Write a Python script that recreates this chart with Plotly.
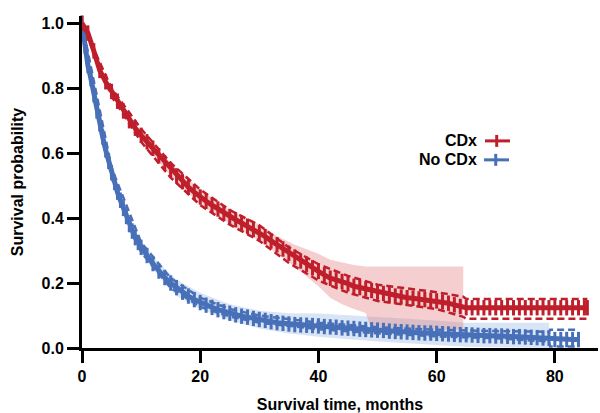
import plotly.graph_objects as go

# ---------------- data ----------------
cdx_t = [0, 1, 2, 3, 4, 5, 6, 7, 8, 9, 10, 11, 12, 13, 14, 15, 16, 17, 18, 19, 20,
         21, 22, 23, 24, 25, 26, 27, 28, 29, 30, 31, 32, 33, 34, 35, 36, 37, 38, 39, 40,
         41, 42, 43, 44, 45, 46, 47, 48, 49, 50, 51, 52, 53, 54, 55, 56, 57, 58, 59, 60,
         61, 62, 63, 64, 65, 66, 67, 68, 69, 70, 71, 72, 73, 74, 75, 76, 77, 78, 79, 80,
         81, 82, 83, 84, 85, 85.5]
cdx_s = [1.0, 0.97, 0.915, 0.855, 0.82, 0.79, 0.76, 0.73, 0.70, 0.677, 0.655, 0.635, 0.615,
         0.592, 0.57, 0.55, 0.53, 0.512, 0.495, 0.48, 0.465, 0.452, 0.44, 0.428, 0.415,
         0.405, 0.395, 0.385, 0.375, 0.365, 0.355, 0.343, 0.33, 0.318, 0.305, 0.292, 0.28,
         0.268, 0.258, 0.247, 0.236, 0.225, 0.215, 0.21, 0.205, 0.198, 0.19, 0.186, 0.182,
         0.177, 0.172, 0.168, 0.164, 0.16, 0.157, 0.155, 0.153, 0.151, 0.149, 0.147, 0.145,
         0.142, 0.138, 0.133, 0.128, 0.124, 0.124, 0.124, 0.124, 0.124, 0.124, 0.124, 0.124,
         0.124, 0.124, 0.124, 0.124, 0.124, 0.124, 0.124, 0.124, 0.124, 0.124, 0.124, 0.124,
         0.124, 0.124]

nocdx_t = [0, 0.5, 1, 1.5, 2, 2.5, 3, 3.5, 4, 4.5, 5, 5.5, 6, 6.5, 7, 7.5, 8, 8.5, 9, 9.5,
           10, 11, 12, 13, 14, 15, 16, 17, 18, 19, 20, 21, 22, 23, 24, 25, 26, 27, 28, 29,
           30, 31, 32, 33, 34, 35, 36, 37, 38, 39, 40, 41, 42, 43, 44, 45, 46, 47, 48, 49,
           50, 51, 52, 53, 54, 55, 56, 57, 58, 59, 60, 61, 62, 63, 64, 65, 66, 67, 68, 69,
           70, 71, 72, 73, 74, 75, 76, 77, 78, 79, 80, 81, 82, 83, 84]
nocdx_s = [1.0, 0.93, 0.87, 0.83, 0.78, 0.73, 0.69, 0.65, 0.61, 0.575, 0.54, 0.51, 0.48,
           0.455, 0.43, 0.405, 0.38, 0.36, 0.34, 0.325, 0.31, 0.285, 0.26, 0.237, 0.217,
           0.2, 0.186, 0.172, 0.16, 0.149, 0.14, 0.132, 0.125, 0.118, 0.112, 0.107, 0.102,
           0.098, 0.095, 0.091, 0.088, 0.085, 0.081, 0.078, 0.076, 0.074, 0.072, 0.071, 0.07,
           0.069, 0.068, 0.066, 0.065, 0.064, 0.062, 0.061, 0.06, 0.058, 0.057, 0.056, 0.055,
           0.054, 0.052, 0.051, 0.05, 0.049, 0.048, 0.047, 0.046, 0.046, 0.045, 0.044, 0.043,
           0.042, 0.041, 0.041, 0.04, 0.039, 0.038, 0.038, 0.037, 0.037, 0.036, 0.035, 0.035,
           0.034, 0.033, 0.032, 0.031, 0.03, 0.026, 0.026, 0.026, 0.026, 0.026]

# dashed confidence limits
cdx_ci_t = [0, 5, 10, 15, 20, 25, 30, 35, 40, 45, 50, 55, 60, 64.5, 65, 85.5]
cdx_ci_hi = [1.0, 0.80, 0.675, 0.57, 0.488, 0.425, 0.378, 0.31, 0.258, 0.222, 0.195, 0.183,
             0.172, 0.158, 0.151, 0.151]
cdx_ci_lo = [1.0, 0.775, 0.635, 0.525, 0.44, 0.38, 0.33, 0.262, 0.208, 0.17, 0.145, 0.132,
             0.12, 0.096, 0.09, 0.09]

nocdx_ci_t = [0, 5, 10, 15, 20, 25, 30, 40, 50, 60, 70, 79, 79.2, 84]
nocdx_ci_hi = [1.0, 0.555, 0.325, 0.215, 0.155, 0.12, 0.1, 0.078, 0.064, 0.056, 0.052, 0.05,
               0.056, 0.056]
nocdx_ci_lo = [1.0, 0.525, 0.295, 0.185, 0.127, 0.097, 0.078, 0.058, 0.045, 0.036, 0.03,
               0.02, 0.005, 0.005]

# shaded bands
cdx_band_t = [10, 15, 20, 25, 30, 33, 36, 40, 42, 44, 46, 48, 49, 64.5]
cdx_band_hi = [0.672, 0.568, 0.488, 0.425, 0.38, 0.345, 0.318, 0.29, 0.272, 0.263, 0.256,
               0.251, 0.251, 0.251]
cdx_band_lo = [0.638, 0.53, 0.442, 0.382, 0.33, 0.29, 0.25, 0.19, 0.155, 0.135, 0.12,
               0.108, 0.056, 0.056]

nocdx_band_t = [8, 10, 13, 16, 20, 25, 30, 35, 40, 45, 50, 55, 60, 65, 70, 79]
nocdx_band_hi = [0.40, 0.33, 0.26, 0.21, 0.17, 0.135, 0.115, 0.107, 0.106, 0.10, 0.095,
                 0.09, 0.085, 0.078, 0.078, 0.078]
nocdx_band_lo = [0.36, 0.29, 0.22, 0.16, 0.12, 0.085, 0.06, 0.045, 0.035, 0.027, 0.02,
                 0.015, 0.01, 0.004, 0.002, 0.0]

x_ticks = [0, 20, 40, 60, 80]
y_ticks = [0.0, 0.2, 0.4, 0.6, 0.8, 1.0]
y_tick_text = ["0.0", "0.2", "0.4", "0.6", "0.8", "1.0"]
series_names = ["CDx", "No CDx"]

RED = "#BF1E2B"
BLUE = "#4870B8"
RED_BAND = "rgba(225,110,110,0.33)"
BLUE_BAND = "rgba(120,160,220,0.28)"

FONT = "Liberation Sans, Arial, Helvetica, sans-serif"

fig = go.Figure()


def band(t, lo, hi, color):
    fig.add_trace(go.Scatter(x=t, y=lo, mode="lines", line=dict(width=0),
                             hoverinfo="skip", showlegend=False))
    fig.add_trace(go.Scatter(x=t, y=hi, mode="lines", line=dict(width=0),
                             fill="tonexty", fillcolor=color, hoverinfo="skip",
                             showlegend=False))


band(nocdx_band_t, nocdx_band_lo, nocdx_band_hi, BLUE_BAND)
band(cdx_band_t, cdx_band_lo, cdx_band_hi, RED_BAND)

for t, ys, col in [(nocdx_ci_t, nocdx_ci_hi, BLUE), (nocdx_ci_t, nocdx_ci_lo, BLUE),
                   (cdx_ci_t, cdx_ci_hi, RED), (cdx_ci_t, cdx_ci_lo, RED)]:
    fig.add_trace(go.Scatter(x=t, y=ys, mode="lines",
                             line=dict(color=col, width=2.5, dash="7px,4px"),
                             showlegend=False, cliponaxis=False))

for t, s, col, name in [(nocdx_t, nocdx_s, BLUE, series_names[1]),
                        (cdx_t, cdx_s, RED, series_names[0])]:
    fig.add_trace(go.Scatter(x=t, y=s, mode="lines+markers", name=name,
                             line=dict(color=col, width=5),
                             marker=dict(symbol="line-ns", size=11,
                                         line=dict(color=col, width=3)),
                             showlegend=False, cliponaxis=False))

# custom legend (text on the left, symbol on the right)
leg = [(series_names[0], RED, 0.6238, 0.781, 0.8295, 0.8037),
       (series_names[1], BLUE, 0.5667, 0.779, 0.8275, 0.8018)]
for name, col, yy, x0, x1, xm in leg:
    fig.add_annotation(x=0.7694, y=yy, xref="paper", yref="paper", text=name,
                       showarrow=False, xanchor="right", yanchor="middle",
                       font=dict(family=FONT, size=16, color="black", weight="bold"))
    fig.add_shape(type="line", xref="paper", yref="paper", x0=x0, x1=x1, y0=yy, y1=yy,
                  line=dict(color=col, width=3))
    fig.add_shape(type="line", xref="paper", yref="paper", x0=xm, x1=xm,
                  y0=yy - 0.018, y1=yy + 0.018, line=dict(color=col, width=3))

axis_font = dict(family=FONT, size=16, color="black", weight="bold")
fig.update_xaxes(range=[0, 87.3], tickvals=x_ticks, ticks="outside", ticklen=12,
                 tickwidth=3, tickcolor="black", showline=True, linecolor="black",
                 linewidth=3, showgrid=False, zeroline=False, tickfont=axis_font,
                 automargin=False,
                 title=dict(text="Survival time, months", font=axis_font, standoff=16))
fig.update_yaxes(range=[0, 1.0225], tickvals=y_ticks, ticktext=y_tick_text, ticks="outside",
                 ticklen=12, tickwidth=3, tickcolor="black", showline=True,
                 linecolor="black", linewidth=3, showgrid=False, zeroline=False,
                 tickfont=axis_font, automargin=False,
                 title=dict(text="Survival probability", font=axis_font, standoff=14))
fig.update_layout(width=600, height=413, margin=dict(l=82, r=2, t=16, b=65),
                  plot_bgcolor="white", paper_bgcolor="white", showlegend=False)

fig.write_html("out.html", config={"displayModeBar": False},
               post_script="document.body.style.margin='0';")
